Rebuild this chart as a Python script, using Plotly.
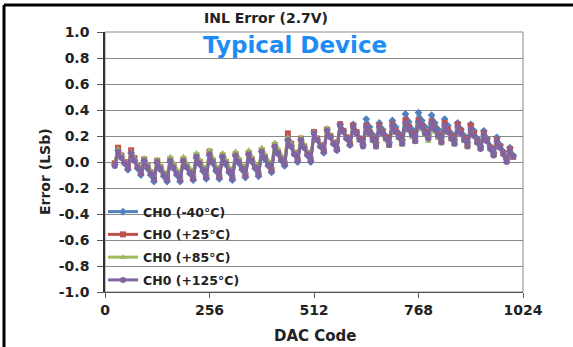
import plotly.graph_objects as go

# DAC codes sampled every 8 codes (24 .. 1000)
codes = list(range(24, 1001, 8))

ch0_m40 = [
    -0.02,
    0.09, 0.04, -0.01, -0.06,
    0.07, 0.01, -0.05, -0.10,
    0.01, -0.05, -0.10, -0.15,
    -0.01, -0.06, -0.11, -0.15,
    0.00, -0.05, -0.10, -0.15,
    0.01, -0.04, -0.09, -0.14,
    0.03, -0.02, -0.07, -0.13,
    0.05, -0.01, -0.07, -0.13,
    0.04, -0.02, -0.08, -0.14,
    0.05, -0.01, -0.06, -0.12,
    0.06, 0.00, -0.05, -0.11,
    0.08, 0.02, -0.03, -0.08,
    0.12, 0.06, 0.01, -0.03,
    0.17, 0.12, 0.06, 0.00,
    0.17, 0.11, 0.05, 0.00,
    0.23, 0.17, 0.12, 0.07,
    0.25, 0.20, 0.14, 0.09,
    0.29, 0.24, 0.18, 0.13,
    0.29, 0.23, 0.18, 0.13,
    0.33, 0.27, 0.21, 0.15,
    0.30, 0.25, 0.20, 0.15,
    0.32, 0.27, 0.22, 0.17,
    0.37, 0.31, 0.25, 0.20,
    0.38, 0.32, 0.27, 0.21,
    0.36, 0.30, 0.25, 0.19,
    0.33, 0.28, 0.22, 0.17,
    0.30, 0.25, 0.20, 0.15,
    0.29, 0.24, 0.18, 0.12,
    0.24, 0.18, 0.12, 0.07,
    0.19, 0.13, 0.08, 0.02,
    0.11, 0.05,
]

ch0_p25 = [
    -0.01,
    0.11, 0.05, 0.00, -0.04,
    0.09, 0.03, -0.03, -0.08,
    0.02, -0.03, -0.08, -0.13,
    0.01, -0.04, -0.09, -0.13,
    0.02, -0.03, -0.08, -0.13,
    0.02, -0.03, -0.07, -0.12,
    0.05, 0.00, -0.05, -0.11,
    0.08, 0.01, -0.05, -0.11,
    0.05, 0.00, -0.06, -0.12,
    0.06, 0.01, -0.04, -0.10,
    0.07, 0.02, -0.03, -0.09,
    0.09, 0.04, -0.01, -0.06,
    0.13, 0.08, 0.03, -0.01,
    0.22, 0.14, 0.07, 0.02,
    0.18, 0.12, 0.07, 0.02,
    0.23, 0.18, 0.13, 0.09,
    0.25, 0.20, 0.15, 0.10,
    0.29, 0.24, 0.19, 0.14,
    0.28, 0.23, 0.18, 0.13,
    0.28, 0.23, 0.18, 0.13,
    0.28, 0.23, 0.19, 0.14,
    0.29, 0.24, 0.20, 0.15,
    0.32, 0.27, 0.22, 0.17,
    0.32, 0.28, 0.23, 0.19,
    0.31, 0.26, 0.21, 0.16,
    0.30, 0.25, 0.20, 0.15,
    0.29, 0.24, 0.18, 0.13,
    0.28, 0.22, 0.16, 0.11,
    0.22, 0.17, 0.11, 0.06,
    0.17, 0.12, 0.07, 0.01,
    0.10, 0.04,
]

ch0_p85 = [
    -0.02,
    0.10, 0.05, 0.00, -0.04,
    0.08, 0.03, -0.02, -0.07,
    0.03, -0.02, -0.07, -0.11,
    0.02, -0.03, -0.08, -0.12,
    0.04, -0.01, -0.06, -0.11,
    0.04, -0.01, -0.05, -0.10,
    0.07, 0.02, -0.03, -0.09,
    0.09, 0.03, -0.03, -0.09,
    0.07, 0.02, -0.04, -0.10,
    0.08, 0.03, -0.02, -0.08,
    0.09, 0.04, -0.01, -0.07,
    0.11, 0.06, 0.01, -0.04,
    0.15, 0.10, 0.05, 0.01,
    0.19, 0.14, 0.08, 0.03,
    0.19, 0.13, 0.08, 0.03,
    0.23, 0.18, 0.13, 0.09,
    0.26, 0.20, 0.15, 0.10,
    0.28, 0.23, 0.18, 0.13,
    0.27, 0.22, 0.17, 0.12,
    0.26, 0.21, 0.16, 0.11,
    0.26, 0.21, 0.17, 0.12,
    0.27, 0.22, 0.18, 0.13,
    0.28, 0.24, 0.19, 0.15,
    0.29, 0.25, 0.21, 0.16,
    0.28, 0.23, 0.18, 0.14,
    0.27, 0.22, 0.17, 0.13,
    0.26, 0.21, 0.16, 0.11,
    0.25, 0.20, 0.14, 0.10,
    0.21, 0.16, 0.10, 0.05,
    0.16, 0.11, 0.06, 0.00,
    0.09, 0.04,
]

ch0_p125 = [
    -0.03,
    0.08, 0.03, -0.01, -0.05,
    0.07, 0.01, -0.04, -0.09,
    0.01, -0.04, -0.09, -0.13,
    0.00, -0.05, -0.10, -0.14,
    0.01, -0.04, -0.09, -0.14,
    0.01, -0.04, -0.08, -0.13,
    0.04, -0.01, -0.06, -0.12,
    0.06, 0.00, -0.06, -0.12,
    0.04, -0.01, -0.07, -0.13,
    0.05, 0.00, -0.05, -0.11,
    0.06, 0.01, -0.04, -0.10,
    0.08, 0.03, -0.02, -0.07,
    0.12, 0.07, 0.02, -0.02,
    0.17, 0.12, 0.06, 0.01,
    0.17, 0.11, 0.06, 0.01,
    0.22, 0.17, 0.12, 0.08,
    0.24, 0.19, 0.14, 0.09,
    0.28, 0.23, 0.18, 0.13,
    0.27, 0.22, 0.17, 0.12,
    0.27, 0.22, 0.17, 0.12,
    0.27, 0.22, 0.18, 0.13,
    0.28, 0.23, 0.19, 0.14,
    0.30, 0.25, 0.21, 0.16,
    0.31, 0.27, 0.22, 0.18,
    0.30, 0.25, 0.20, 0.15,
    0.28, 0.23, 0.18, 0.14,
    0.27, 0.22, 0.17, 0.12,
    0.25, 0.20, 0.15, 0.10,
    0.21, 0.16, 0.10, 0.05,
    0.16, 0.11, 0.06, 0.00,
    0.09, 0.04,
]

series_names = ["CH0 (-40°C)", "CH0 (+25°C)", "CH0 (+85°C)", "CH0 (+125°C)"]
series_values = [ch0_m40, ch0_p25, ch0_p85, ch0_p125]
colors = ["#4F81BD", "#C0504D", "#9BBB59", "#8064A2"]
symbols = ["diamond", "square", "triangle-up", "circle"]

x_ticks = [0, 256, 512, 768, 1024]
y_ticks = [-1.0, -0.8, -0.6, -0.4, -0.2, 0.0, 0.2, 0.4, 0.6, 0.8, 1.0]

FONT = "'DejaVu Sans', Arial, sans-serif"
TXT = "#222222"

W, H = 573, 347
L, R, T, B = 105, 50, 32, 55
pw, ph = W - L - R, H - T - B


def px(x):
    return (x - L) / pw


def py(y):
    return (H - B - y) / ph


fig = go.Figure()
for i, (name, vals, col, sym) in enumerate(zip(series_names, series_values, colors, symbols)):
    fig.add_trace(go.Scatter(
        x=codes, y=vals, name=name, mode="lines+markers",
        legendgroup="g%d" % i,
        line=dict(color=col, width=3),
        marker=dict(color=col, size=6, symbol=sym),
    ))

fig.update_layout(
    width=W, height=H,
    margin=dict(l=L, r=R, t=T, b=B),
    paper_bgcolor="white", plot_bgcolor="white",
    font=dict(family=FONT, color=TXT),
    showlegend=True,
    legend=dict(
        x=px(103), y=py(197), xanchor="left", yanchor="top",
        bgcolor="rgba(0,0,0,0)", borderwidth=0,
        font=dict(family=FONT, size=12.5, color=TXT, weight="bold"),
        itemwidth=30, tracegroupgap=3.5,
    ),
    xaxis=dict(
        range=[0, 1024], tickvals=x_ticks, ticktext=[str(v) for v in x_ticks],
        showgrid=False, zeroline=False,
        showline=True, linecolor="#555555", linewidth=1,
        ticks="outside", ticklen=5, tickcolor="#555555",
        tickfont=dict(family=FONT, size=14, color=TXT, weight="bold"),
    ),
    yaxis=dict(
        range=[-1.0, 1.0], tickvals=y_ticks,
        ticktext=["%.1f" % v for v in y_ticks],
        showgrid=True, gridcolor="#8a8a8a", gridwidth=1,
        zeroline=False,
        showline=True, linecolor="#333333", linewidth=1.5,
        ticks="outside", ticklen=6, tickcolor="#555555",
        ticklabelstandoff=5,
        tickfont=dict(family=FONT, size=14, color=TXT, weight="bold"),
    ),
)

# plot frame (top / right)
fig.add_shape(type="rect", xref="paper", yref="paper", x0=0, x1=1, y0=0, y1=1,
              line=dict(color="#8a8a8a", width=1), layer="below")

# white box behind the legend (hides the gridlines there)
fig.add_shape(type="rect", xref="paper", yref="paper",
              x0=px(118), x1=px(242), y0=py(288), y1=py(198),
              line=dict(width=0), fillcolor="white", layer="between")

# outer figure border (top and left)
fig.add_shape(type="line", xref="paper", yref="paper",
              x0=px(4), x1=px(573), y0=py(5), y1=py(5),
              line=dict(color="black", width=3))
fig.add_shape(type="line", xref="paper", yref="paper",
              x0=px(4), x1=px(4), y0=py(5), y1=py(350),
              line=dict(color="black", width=3))

ann = dict(xref="paper", yref="paper", showarrow=False,
           xanchor="center", yanchor="middle")
fig.add_annotation(text="INL Error (2.7V)", x=px(266), y=py(18),
                   font=dict(family=FONT, size=14, color=TXT, weight="bold"), **ann)
fig.add_annotation(text="Typical Device", x=px(295), y=py(45),
                   font=dict(family=FONT, size=23, color="#1E8CF5", weight="bold"), **ann)
fig.add_annotation(text="DAC Code", x=px(315), y=py(336),
                   font=dict(family=FONT, size=15, color=TXT, weight="bold"), **ann)
fig.add_annotation(text="Error (LSb)", x=px(45), y=py(172), textangle=-90,
                   font=dict(family=FONT, size=14, color=TXT, weight="bold"), **ann)

fig.write_html("out.html", config={"displayModeBar": False},
               post_script="document.body.style.margin='0';")
